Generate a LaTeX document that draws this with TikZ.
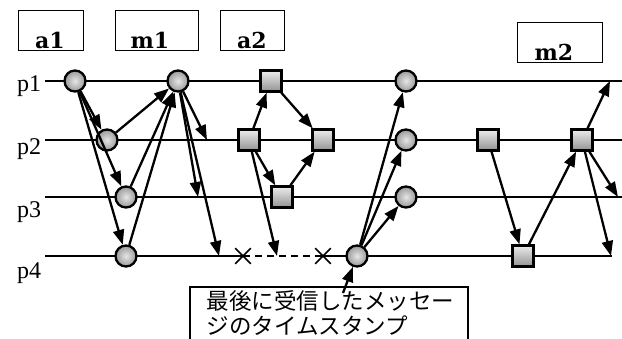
\documentclass[tikz,border=0pt]{standalone}
\usepackage{fontspec}
\setmainfont{Liberation Serif}
\newfontfamily\boxfont{DejaVu Serif}
\newfontfamily\jpfont{Noto Sans CJK JP}
\usetikzlibrary{arrows.meta,shapes.misc}
\begin{document}
\begin{tikzpicture}[x=1pt,y=-1pt,
  procline/.style={line width=1.9pt},
  msg/.style={line width=2.3pt,-{Triangle[length=15pt,width=11pt]}},
  ev/.style={circle,draw,line width=2.3pt,minimum size=21pt,inner sep=0pt,inner color=gray!20,outer color=gray!80},
  sq/.style={rectangle,draw,line width=2.3pt,minimum size=21pt,inner sep=0pt,top color=gray!15,bottom color=gray!85},
  xmark/.style={cross out,draw,line width=1.7pt,minimum size=14pt,inner sep=0pt},
  lbl/.style={font=\fontsize{24}{24}\selectfont,anchor=base},
  boxlbl/.style={font=\boxfont\fontsize{22}{22}\selectfont\bfseries,anchor=base},
  jp/.style={font=\jpfont\fontsize{22.5}{22.5}\selectfont,anchor=base west}]
\useasboundingbox (0,0) rectangle (622,338);
% label boxes
\draw[line width=1pt] (18,10) rectangle (83,50);
\draw[line width=1pt] (115,10) rectangle (198,50);
\draw[line width=1pt] (220,10) rectangle (284,50);
\draw[line width=1pt] (517,22) rectangle (602,62);
\node[boxlbl] (ta1) at (50,48) {a1};
\node[boxlbl] (tm1) at (150,48) {m1};
\node[boxlbl] (ta2) at (252,48) {a2};
\node[boxlbl] (tm2) at (554,60) {m2};
% process labels
\node[lbl] (l1) at (29,91) {p1};
\node[lbl] (l2) at (29,154) {p2};
\node[lbl] (l3) at (29,217) {p3};
\node[lbl] (l4) at (29,278) {p4};
% line coordinates
\coordinate (s1) at (45,81); \coordinate (e1) at (622,81);
\coordinate (s2) at (45,140); \coordinate (e2) at (622,140);
\coordinate (s3) at (45,197); \coordinate (e3) at (622,197);
\coordinate (s4) at (45,256); \coordinate (e4) at (612,256);
\node[xmark] (X1) at (243,256) {};
\node[xmark] (X2) at (323,256) {};
\draw[procline] (s1) -- (e1);
\draw[procline] (s2) -- (e2);
\draw[procline] (s3) -- (e3);
\draw[procline] (s4) -- (X1.center);
\draw[line width=1.3pt,dash pattern=on 7pt off 5pt] (X1.center) -- (X2.center);
\draw[procline] (X2.center) -- (e4);
% events
\node[ev] (A) at (75,81) {};
\node[ev] (B) at (107,140) {};
\node[ev] (C) at (126,197) {};
\node[ev] (D) at (126,256) {};
\node[ev] (E) at (178,81) {};
\node[sq] (F) at (271,81) {};
\node[sq] (G) at (249,140) {};
\node[sq] (H) at (323,140) {};
\node[sq] (I) at (282,197) {};
\node[ev] (J) at (357,256) {};
\node[ev] (K) at (406,81) {};
\node[ev] (L) at (406,140) {};
\node[ev] (M) at (406,197) {};
\node[sq] (N) at (488,140) {};
\node[sq] (O) at (523,256) {};
\node[sq] (P) at (582,140) {};
% free arrow ends
\coordinate (e2a) at (207,140);
\coordinate (e3a) at (198,197);
\coordinate (e4a) at (219,256);
\coordinate (g4) at (277,256);
\coordinate (p1a) at (610,81);
\coordinate (p3a) at (618,197);
\coordinate (p4a) at (611,256);
% messages
\draw[msg] (A) -- (B);
\draw[msg] (A) -- (C);
\draw[msg] (A) -- (D);
\draw[msg] (B) -- (E);
\draw[msg] (C) -- (E);
\draw[msg] (D) -- (E);
\draw[msg] (E) -- (e2a);
\draw[msg] (E) -- (e3a);
\draw[msg] (E) -- (e4a);
\draw[msg] (G) -- (F);
\draw[msg] (F) -- (H);
\draw[msg] (G) -- (I);
\draw[msg] (I) -- (H);
\draw[msg] (G) -- (g4);
\draw[msg] (J) -- (K);
\draw[msg] (J) -- (L);
\draw[msg] (J) -- (M);
\draw[msg] (N) -- (O);
\draw[msg] (O) -- (P);
\draw[msg] (P) -- (p1a);
\draw[msg] (P) -- (p3a);
\draw[msg] (P) -- (p4a);
% callout
\draw[line width=1.1pt] (190,340) -- (190,287) -- (468,287) -- (468,340);
\node[jp] (t1) at (203,309) {最後に受信したメッセー};
\node[jp] (t2) at (203,334) {ジのタイムスタンプ};
\coordinate (co) at (343,293);
\draw[msg] (co) -- (J);
\end{tikzpicture}
\end{document}
